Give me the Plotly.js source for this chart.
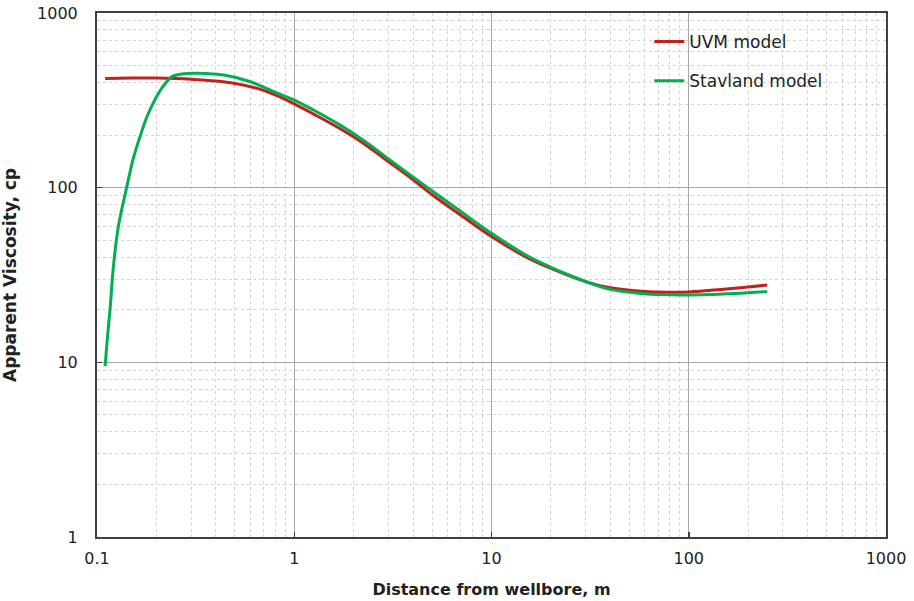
<!DOCTYPE html>
<html>
<head>
<meta charset="utf-8">
<script src="https://cdn.plot.ly/plotly-3.0.1.min.js"></script>
<style>html,body{margin:0;padding:0;background:#fff;}#chart{width:914px;height:601px;}</style>
</head>
<body>
<div id="chart"></div>
<script>
const uvmX = [0.11, 0.15, 0.2, 0.25, 0.3, 0.4, 0.5, 0.65, 0.8, 1, 1.3, 1.7, 2.2, 3, 4, 5, 7, 10, 15, 20, 30, 40, 60, 80, 100, 150, 200, 250];
const uvmY = [422, 424, 424, 422, 418, 408, 395, 370, 340, 302, 258, 218, 182, 141, 111, 91, 69.5, 52.5, 40, 34.5, 29, 26.7, 25.4, 25.2, 25.3, 26.2, 27, 27.7];
const stavX = [0.11, 0.113, 0.1164, 0.121, 0.128, 0.1415, 0.153, 0.165, 0.18, 0.2, 0.22, 0.24, 0.27, 0.31, 0.36, 0.44, 0.6, 0.8, 1, 1.3, 1.71, 2.24, 3.3, 4.88, 7.19, 10, 15, 20, 26, 38, 57, 80, 100, 150, 200, 250];
const stavY = [9.5, 14, 20, 35, 59, 101, 148, 195, 258, 330, 390, 432, 447, 452, 450, 441, 404, 352, 317, 272, 228, 187, 135, 97.8, 71.3, 54.8, 41, 35, 30.9, 26.5, 24.8, 24.4, 24.3, 24.6, 25.0, 25.4];
const seriesNames = ["UVM model", "Stavland model"];
const xTicks = [0.1, 1, 10, 100, 1000];
const xTickText = ["0.1", "1", "10", "100", "1000"];
const yTicks = [1, 10, 100, 1000];
const yTickText = ["1", "10", "100", "1000"];
const minorMult = [2, 3, 4, 5, 6, 7, 8, 9];

function minorVals(decades) {
  const out = [];
  decades.forEach(d => minorMult.forEach(m => out.push(m * d)));
  return out;
}

const font = "DejaVu Sans, Liberation Sans, Arial, sans-serif";
const traces = [
  {x: uvmX, y: uvmY, name: seriesNames[0], mode: "lines", line: {color: "#C0211B", width: 3, shape: "spline", smoothing: 1}, legendgroup: "a"},
  {x: stavX, y: stavY, name: seriesNames[1], mode: "lines", line: {color: "#00B050", width: 3, shape: "spline", smoothing: 1}, legendgroup: "b"}
];
const axisCommon = {
  type: "log",
  showline: true, mirror: true, linecolor: "#404040", linewidth: 2,
  ticks: "inside", ticklen: 5, tickcolor: "#404040", tickwidth: 1.5,
  showgrid: true, gridcolor: "#a8a8a8", gridwidth: 1,
  zeroline: false,
  tickfont: {family: font, size: 16, color: "#222"}
};
const minorCommon = {showgrid: true, gridcolor: "#d4d4d4", griddash: "3px,3px", gridwidth: 1, ticks: "", tickmode: "array"};
const layout = {
  width: 914, height: 601,
  margin: {l: 97, r: 28, t: 13, b: 64},
  paper_bgcolor: "#fff", plot_bgcolor: "#fff",
  showlegend: true,
  legend: {x: 0.7, y: 0.979, xanchor: "left", yanchor: "top", bgcolor: "rgba(255,255,255,0)",
           font: {family: font, size: 17, color: "#222"}, tracegroupgap: 14, itemwidth: 30},
  xaxis: Object.assign({}, axisCommon, {
    range: [-1, 3], tickvals: xTicks, ticktext: xTickText, ticklabelstandoff: 6,
    minor: Object.assign({}, minorCommon, {tickvals: minorVals([0.1, 1, 10, 100])}),
    title: {text: "<b>Distance from wellbore, m</b>", font: {family: font, size: 16, color: "#222"}, standoff: 17}
  }),
  yaxis: Object.assign({}, axisCommon, {
    range: [0, 3], tickvals: yTicks, ticktext: yTickText, ticklabelstandoff: 14,
    minor: Object.assign({}, minorCommon, {tickvals: minorVals([1, 10, 100])}),
    title: {text: "<b>Apparent Viscosity, cp</b>", font: {family: font, size: 17, color: "#222"}, standoff: 18}
  }),
  shapes: [{type: "rect", xref: "paper", yref: "paper", x0: 0.669, x1: 0.961, y0: 0.834, y1: 0.998,
            fillcolor: "#fff", line: {width: 0}, layer: "below"}]
};
Plotly.newPlot("chart", traces, layout, {displayModeBar: false, staticPlot: true});
</script>
</body>
</html>
